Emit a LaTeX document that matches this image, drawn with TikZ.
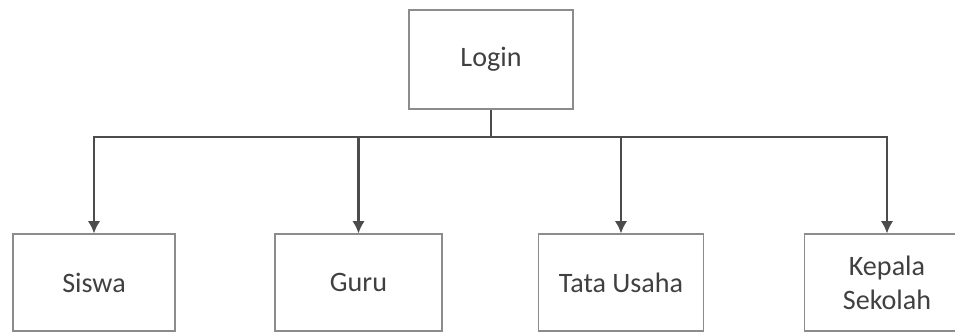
\documentclass[tikz,border=0pt]{standalone}
\usepackage{fontspec}
\setmainfont{Carlito}
\usetikzlibrary{arrows.meta,positioning}

\begin{document}
\begin{tikzpicture}[
    every node/.style={font=\fontsize{16}{19.5}\selectfont, text=black!75},
    box/.style={draw=black!45, line width=0.6pt, minimum width=3.3cm, minimum height=1.94cm, align=center, inner sep=0pt},
    link/.style={draw=black!70, line width=1.2pt, >={Latex[length=7pt,width=7pt]}}
  ]
    \useasboundingbox (0,0) rectangle (19.1,-6.64);

    % top
    \node[box, minimum width=3.28cm, minimum height=1.98cm] (login) at (9.82,-1.19) {Login};

    % users
    \node[box, minimum width=3.24cm] (siswa) at (1.88,-5.65) {Siswa};
    \node[box, minimum width=3.34cm] (guru) at (7.17,-5.65) {Guru};
    \node[box] (tata) at (12.42,-5.65) {Tata Usaha};
    \node[box] (kepala) at (17.74,-5.65) {Kepala\\Sekolah};

    \coordinate (bus) at (9.82,-2.74);
    \draw[link] (login.south) -- (bus);
    \foreach \who in {siswa,guru,tata,kepala}
      \draw[link,->] (bus) -| (\who.north);
\end{tikzpicture}
\end{document}
